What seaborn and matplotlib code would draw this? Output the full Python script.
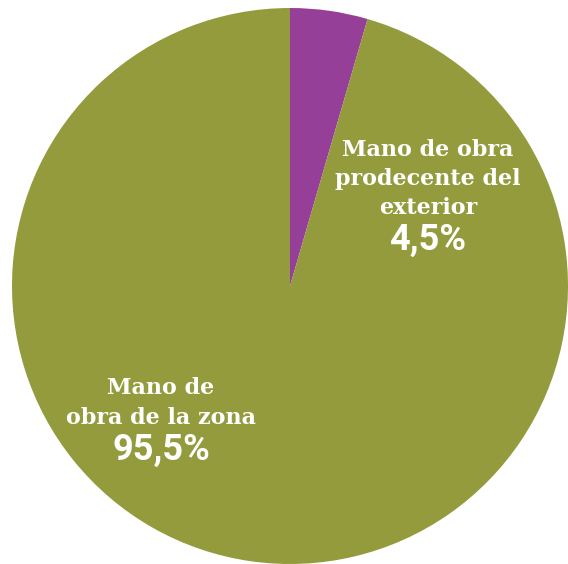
import matplotlib
matplotlib.use("Agg")
import matplotlib.pyplot as plt
import seaborn as sns

categories = ["Mano de obra\nprodecente del\nexterior", "Mano de\nobra de la zona"]
shares = [4.5, 95.5]
pct_labels = ["4,5%", "95,5%"]

sns.set_theme(style="white")
colors = sns.color_palette(["#963f98", "#949b3d"])

W, H = 568, 564
fig = plt.figure(figsize=(W / 100, H / 100), dpi=100)
ax = fig.add_axes([0, 0, 1, 1])

R = 278.0
cx, cy = 290.0, 286.0  # pie centre in pixels from top-left
ax.pie(shares, colors=colors, startangle=90, counterclock=False,
       radius=1.0, center=(0, 0), wedgeprops=dict(linewidth=0))
ax.set_xlim(-cx / R, (W - cx) / R)
ax.set_ylim(-(H - cy) / R, cy / R)
ax.set_aspect("auto")
ax.axis("off")

def px(x, y):
    return ((x - cx) / R, (cy - y) / R)

label_font = dict(family="DejaVu Serif", weight="bold", color="white",
                  ha="center", va="center", linespacing=1.42)
pct_font = dict(family=["Roboto", "DejaVu Sans"], weight="bold", color="white",
                ha="center", va="center")

x, y = px(428, 179)
ax.text(x, y, categories[0], fontsize=16, **label_font)
x, y = px(428, 240)
ax.text(x, y, pct_labels[0], fontsize=26, **pct_font)

x, y = px(161, 403)
ax.text(x, y, categories[1], fontsize=16, **label_font)
x, y = px(161, 450)
ax.text(x, y, pct_labels[1], fontsize=26, **pct_font)

fig.savefig("out.png", dpi=100, facecolor="white")
